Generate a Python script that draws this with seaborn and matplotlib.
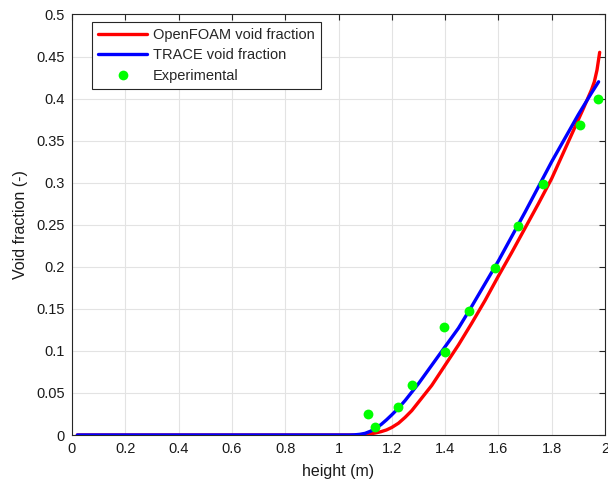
import matplotlib
matplotlib.use("Agg")
import matplotlib.pyplot as plt
from matplotlib.lines import Line2D
import seaborn as sns
import pandas as pd

# ---- data ----
trace_h = [0.02, 0.5, 1.0, 1.04, 1.06, 1.08, 1.10, 1.12, 1.14, 1.16, 1.18, 1.20, 1.225,
           1.25, 1.275, 1.30, 1.35, 1.40, 1.45, 1.50, 1.55, 1.60, 1.65, 1.70, 1.75,
           1.80, 1.85, 1.90, 1.95, 1.976]
trace_v = [0.0, 0.0, 0.0, 0.0, 0.0002, 0.0008, 0.002, 0.0045, 0.008, 0.0125, 0.018, 0.024, 0.032,
           0.041, 0.051, 0.061, 0.083, 0.105, 0.127, 0.153, 0.180, 0.207, 0.236, 0.265, 0.295,
           0.325, 0.353, 0.381, 0.407, 0.420]

foam_h = [0.02, 0.5, 1.0, 1.06, 1.08, 1.10, 1.12, 1.14, 1.16, 1.18, 1.20, 1.225, 1.25,
          1.275, 1.30, 1.325, 1.35, 1.40, 1.45, 1.50, 1.55, 1.60, 1.65, 1.70, 1.75,
          1.80, 1.85, 1.90, 1.92, 1.935, 1.95, 1.96, 1.97, 1.98]
foam_v = [0.0, 0.0, 0.0, 0.0, 0.0002, 0.0006, 0.0013, 0.0025, 0.004, 0.006, 0.009, 0.014, 0.021,
          0.029, 0.039, 0.049, 0.059, 0.083, 0.107, 0.133, 0.160, 0.189, 0.217, 0.246, 0.275,
          0.305, 0.340, 0.375, 0.389, 0.400, 0.411, 0.420, 0.434, 0.455]

exp_h = [1.109, 1.138, 1.223, 1.276, 1.394, 1.401, 1.490, 1.588, 1.675, 1.766, 1.906, 1.974]
exp_v = [0.025, 0.009, 0.033, 0.059, 0.129, 0.099, 0.147, 0.199, 0.249, 0.299, 0.369, 0.399]

x_ticks = [0, 0.2, 0.4, 0.6, 0.8, 1.0, 1.2, 1.4, 1.6, 1.8, 2.0]
x_labels = ["0", "0.2", "0.4", "0.6", "0.8", "1", "1.2", "1.4", "1.6", "1.8", "2"]
y_ticks = [0, 0.05, 0.1, 0.15, 0.2, 0.25, 0.3, 0.35, 0.4, 0.45, 0.5]
y_labels = ["0", "0.05", "0.1", "0.15", "0.2", "0.25", "0.3", "0.35", "0.4", "0.45", "0.5"]

series_names = ["OpenFOAM void fraction", "TRACE void fraction", "Experimental"]

sns.set_style("white")
plt.rcParams["font.family"] = ["Liberation Sans", "DejaVu Sans"]

fig = plt.figure(figsize=(6.08, 4.9), dpi=100)
ax = fig.add_axes([72 / 608, 1 - 435 / 490, 533 / 608, 420.5 / 490])

dark = "#262626"
red, blue, green = "#ff0000", "#0000ff", "#00ff00"
ax.grid(True, color="#e3e3e3", linewidth=0.8)
ax.set_axisbelow(True)

foam = pd.DataFrame({"h": foam_h, "v": foam_v})
trace = pd.DataFrame({"h": trace_h, "v": trace_v})
exp = pd.DataFrame({"h": exp_h, "v": exp_v})

sns.lineplot(data=foam, x="h", y="v", ax=ax, color=red, linewidth=2.4,
             sort=False, zorder=3, legend=False)
sns.lineplot(data=trace, x="h", y="v", ax=ax, color=blue, linewidth=2.4,
             sort=False, zorder=4, legend=False)
sns.scatterplot(data=exp, x="h", y="v", ax=ax, color=green, s=50, linewidth=0,
                zorder=5, legend=False)

ax.set_xlim(0, 2)
ax.set_ylim(0, 0.5)
ax.set_xticks(x_ticks)
ax.set_xticklabels(x_labels)
ax.set_yticks(y_ticks)
ax.set_yticklabels(y_labels)
ax.tick_params(direction="in", top=True, right=True, length=4, width=0.8,
               colors=dark, labelsize=10.5, labelcolor="#1a1a1a", pad=5)
for sp in ax.spines.values():
    sp.set_color(dark)
    sp.set_linewidth(0.8)

ax.set_xlabel("height (m)", fontsize=11.5, color="#1a1a1a", labelpad=6)
ax.set_ylabel("Void fraction (-)", fontsize=11.5, color="#1a1a1a", labelpad=6)

handles = [
    Line2D([], [], color=red, linewidth=2.4),
    Line2D([], [], color=blue, linewidth=2.4),
    Line2D([], [], color=green, linestyle="none", marker="o", markersize=7, markeredgewidth=0),
]
leg = ax.legend(handles, series_names, loc="upper left", bbox_to_anchor=(0.0375, 0.982),
                borderaxespad=0, fontsize=10.5, frameon=True, fancybox=False, framealpha=1,
                edgecolor=dark, handlelength=3.4, handletextpad=0.4,
                labelspacing=0.45, borderpad=0.4)
leg.get_frame().set_linewidth(0.8)

fig.savefig("out.png", dpi=100)
